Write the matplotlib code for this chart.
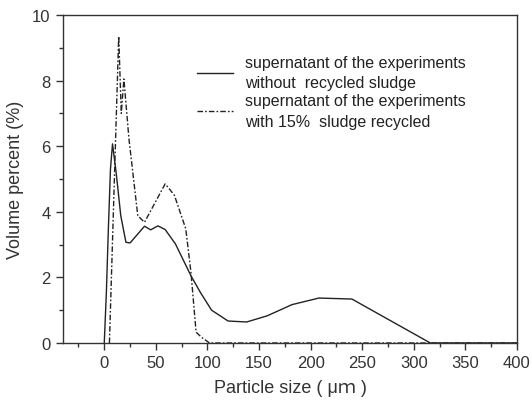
import numpy as np
import matplotlib.pyplot as plt
from matplotlib.ticker import MultipleLocator

plt.rcParams['font.family'] = ['Liberation Sans', 'Noto Sans CJK SC', 'DejaVu Sans']

# supernatant, no recycled sludge
x_sem = [0, 2, 4, 6, 8, 11.5, 16, 21, 25, 39, 45, 52, 59, 69, 84, 93, 104, 120, 138, 158, 182, 208, 240, 316, 400]
y_sem = [0, 1.5, 3.5, 5.3, 6.07, 5.2, 3.88, 3.07, 3.05, 3.56, 3.45, 3.57, 3.46, 3.02, 2.05, 1.55, 1.0, 0.67, 0.64, 0.83, 1.17, 1.37, 1.34, 0, 0]

# supernatant, 15% sludge recycled
x_rec = [5, 14, 16.5, 19, 24, 32.5, 39, 59, 63, 68, 79, 84, 89, 94, 102, 400]
y_rec = [0, 9.35, 7.0, 8.05, 6.2, 3.88, 3.68, 4.85, 4.7, 4.5, 3.48, 2.16, 0.33, 0.18, 0, 0]

lbl1 = 'supernatant of the experiments\nwithout  recycled sludge'
lbl2 = 'supernatant of the experiments\nwith 15%  sludge recycled'

fig = plt.figure(figsize=(5.32, 4.10), dpi=100)
ax = fig.add_axes([0.1184, 0.161, 0.8534, 0.800])

ax.plot(x_sem, y_sem, color='#222222', lw=1.0, label=lbl1)
ax.plot(x_rec, y_rec, color='#222222', lw=1.0, linestyle=(0, (4, 1.5, 1.2, 1.5)), label=lbl2)

ax.set_xlim(-40, 400)
ax.set_ylim(0, 10)
ax.xaxis.set_major_locator(MultipleLocator(50))
ax.xaxis.set_minor_locator(MultipleLocator(25))
ax.yaxis.set_major_locator(MultipleLocator(2))
ax.yaxis.set_minor_locator(MultipleLocator(1))
ax.tick_params(which='major', length=5, width=1, labelsize=12, colors='#333333', pad=4)
ax.tick_params(which='minor', length=3, width=1, colors='#333333')
for s in ax.spines.values():
    s.set_linewidth(1.0)
    s.set_color('#333333')

ax.set_xlabel('Particle size ( μｍ )', fontsize=13, color='#333333', labelpad=6)
ax.set_ylabel('Volume percent (%)', fontsize=13, color='#333333', labelpad=6)

leg = ax.legend(loc='upper left', bbox_to_anchor=(0.263, 0.923), frameon=False, fontsize=11.5,
                handlelength=2.25, handletextpad=0.75, labelspacing=0.2, labelcolor='#222222')
for t in leg.get_texts():
    t.set_linespacing(1.45)

fig.savefig('out.png', dpi=100)
